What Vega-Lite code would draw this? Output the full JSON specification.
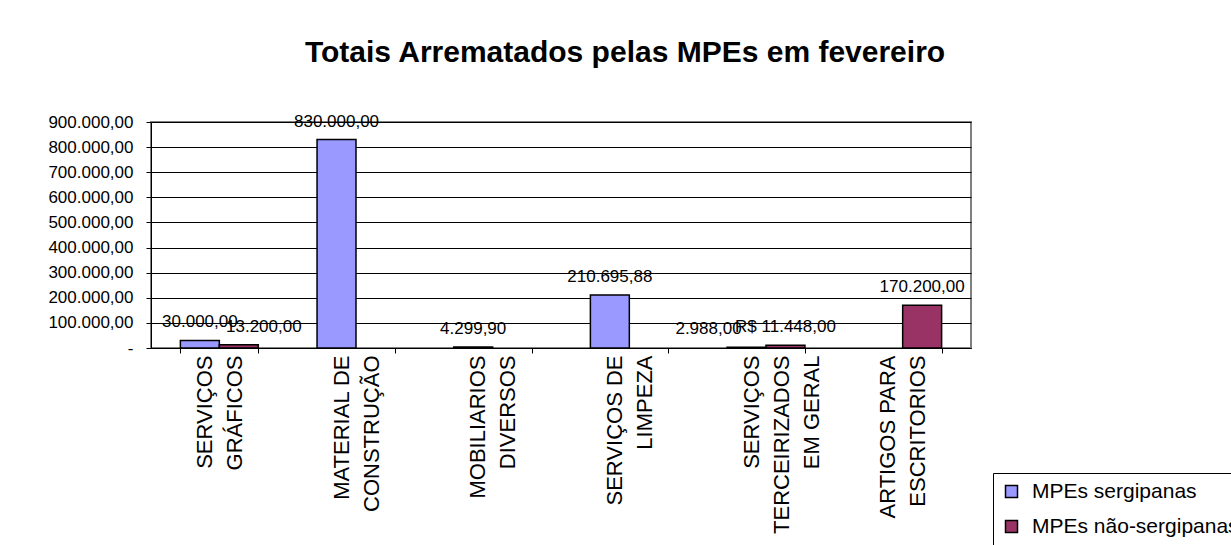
{
  "$schema": "https://vega.github.io/schema/vega-lite/v6.json",
  "width": 820,
  "height": 226,
  "autosize": {"type": "none"},
  "padding": {"left": 151, "top": 122, "right": 260, "bottom": 197},
  "background": "white",
  "title": {
    "text": "Totais Arrematados pelas MPEs em fevereiro",
    "font": "Liberation Sans",
    "fontSize": 30,
    "fontWeight": "bold",
    "color": "black",
    "anchor": "middle",
    "frame": "group",
    "dx": 64,
    "offset": 45
  },
  "config": {
    "locale": {"number": {"decimal": ",", "thousands": ".", "grouping": [3], "currency": ["R$ ", ""]}},
    "view": {"stroke": "#808080", "strokeWidth": 2},
    "font": "Liberation Sans"
  },
  "data": {
    "values": [
      {"categoria": "SERVIÇOS\nGRÁFICOS", "serie": "MPEs sergipanas", "valor": 30000},
      {"categoria": "SERVIÇOS\nGRÁFICOS", "serie": "MPEs não-sergipanas", "valor": 13200},
      {"categoria": "MATERIAL DE\nCONSTRUÇÃO", "serie": "MPEs sergipanas", "valor": 830000},
      {"categoria": "MOBILIARIOS\nDIVERSOS", "serie": "MPEs sergipanas", "valor": 4299.9},
      {"categoria": "SERVIÇOS DE\nLIMPEZA", "serie": "MPEs sergipanas", "valor": 210695.88},
      {"categoria": "SERVIÇOS\nTERCEIRIZADOS\nEM GERAL", "serie": "MPEs sergipanas", "valor": 2988},
      {"categoria": "SERVIÇOS\nTERCEIRIZADOS\nEM GERAL", "serie": "MPEs não-sergipanas", "valor": 11448},
      {"categoria": "ARTIGOS PARA\nESCRITORIOS", "serie": "MPEs não-sergipanas", "valor": 170200}
    ]
  },
  "encoding": {
    "x": {
      "field": "categoria",
      "type": "nominal",
      "sort": null,
      "scale": {
        "domain": ["SERVIÇOS\nGRÁFICOS", "MATERIAL DE\nCONSTRUÇÃO", "MOBILIARIOS\nDIVERSOS", "SERVIÇOS DE\nLIMPEZA", "SERVIÇOS\nTERCEIRIZADOS\nEM GERAL", "ARTIGOS PARA\nESCRITORIOS"],
        "paddingInner": 0.43,
        "paddingOuter": 0.215
      },
      "axis": {
        "title": null,
        "labelAngle": -90,
        "labelAlign": "right",
        "labelBaseline": "middle",
        "labelFontSize": 22,
        "labelLineHeight": 30,
        "labelColor": "black",
        "labelPadding": 2,
        "labelOffset": -15,
        "labelExpr": "split(datum.label, '\\n')",
        "tickBand": "extent",
        "tickSize": 5,
        "tickColor": "black",
        "domainColor": "black",
        "domainWidth": 1,
        "labelOverlap": false,
        "labelLimit": 0
      }
    },
    "xOffset": {
      "field": "serie",
      "type": "nominal",
      "scale": {"domain": ["MPEs sergipanas", "MPEs não-sergipanas"], "paddingInner": 0, "paddingOuter": 0}
    },
    "y": {
      "field": "valor",
      "type": "quantitative",
      "scale": {"domain": [0, 900000], "nice": false, "zero": true},
      "axis": {
        "title": null,
        "values": [0, 100000, 200000, 300000, 400000, 500000, 600000, 700000, 800000, 900000],
        "format": ",.2f",
        "labelExpr": "datum.value == 0 ? '-\u00a0\u00a0\u00a0\u00a0' : datum.label",
        "labelFontSize": 17,
        "labelColor": "black",
        "labelPadding": 13,
        "tickSize": 5,
        "tickColor": "black",
        "domainColor": "black",
        "domainWidth": 1,
        "grid": true,
        "gridColor": "black",
        "gridWidth": 1,
        "gridOpacity": 1
      }
    }
  },
  "layer": [
    {
      "mark": {"type": "bar", "stroke": "black", "strokeWidth": 1.5},
      "encoding": {
        "color": {
          "field": "serie",
          "type": "nominal",
          "scale": {"domain": ["MPEs sergipanas", "MPEs não-sergipanas"], "range": ["#9999FF", "#993366"]},
          "legend": {
            "title": null,
            "orient": "none",
            "legendX": 842,
            "legendY": 351,
            "strokeColor": "black",
            "fillColor": "white",
            "padding": 8,
            "symbolType": "square",
            "symbolSize": 144,
            "symbolStrokeColor": "black",
            "symbolStrokeWidth": 1.5,
            "labelFontSize": 21,
            "labelColor": "black",
            "labelOffset": 10,
            "rowPadding": 13,
            "labelLimit": 0
          }
        }
      }
    },
    {
      "transform": [{"filter": "datum.valor != 13200 && datum.valor != 2988 && datum.valor != 11448"}],
      "mark": {"type": "text", "fontSize": 17, "color": "black", "baseline": "alphabetic", "dy": -13},
      "encoding": {"text": {"field": "valor", "type": "quantitative", "format": ",.2f"}}
    },
    {
      "transform": [{"filter": "datum.valor == 13200"}],
      "mark": {"type": "text", "fontSize": 17, "color": "black", "baseline": "alphabetic", "dy": -13, "dx": 25},
      "encoding": {"text": {"field": "valor", "type": "quantitative", "format": ",.2f"}}
    },
    {
      "transform": [{"filter": "datum.valor == 2988"}],
      "mark": {"type": "text", "fontSize": 17, "color": "black", "baseline": "alphabetic", "dy": -13, "dx": -38},
      "encoding": {"text": {"field": "valor", "type": "quantitative", "format": ",.2f"}}
    },
    {
      "transform": [{"filter": "datum.valor == 11448"}],
      "mark": {"type": "text", "fontSize": 17, "color": "black", "baseline": "alphabetic", "dy": -13},
      "encoding": {"text": {"field": "valor", "type": "quantitative", "format": "$,.2f"}}
    }
  ]
}
